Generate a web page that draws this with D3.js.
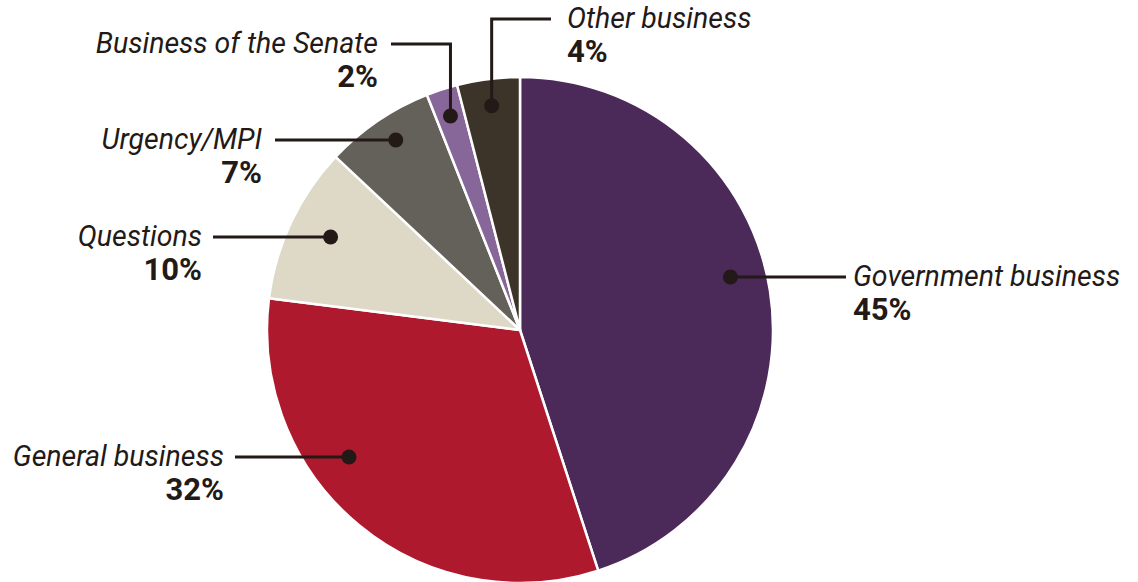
<!DOCTYPE html>
<html>
<head>
<meta charset="utf-8">
<script src="https://cdn.jsdelivr.net/npm/d3@7"></script>
<style>
  body { margin: 0; background: #fff; }
  text { font-family: Roboto, "Liberation Sans", sans-serif; fill: #231916; }
</style>
</head>
<body>
<svg width="1138" height="582"></svg>
<script>
/* chart data */
var categories = ["Government business", "General business", "Questions", "Urgency/MPI", "Business of the Senate", "Other business"];
var shares = [45, 32, 10, 7, 2, 4];
var colours = ["#4b2959", "#ae192d", "#ddd9c6", "#64605a", "#876699", "#3c3429"];

/* where each label sits (layout only) */
var labelLayout = [
  {side: "right", lineY: 277, textX: 853, lineEnd: 846, dotR: 217},
  {side: "left",  lineY: 457, textX: 224, lineEnd: 235, dotR: 213},
  {side: "left",  lineY: 237, textX: 202, lineEnd: 213, dotR: 211},
  {side: "left",  lineY: 140, textX: 262, lineEnd: 275, dotR: 227},
  {side: "elbowLeft",  lineY: 44, textX: 378, lineEnd: 391, dotR: 225},
  {side: "elbowRight", lineY: 19, textX: 567, lineEnd: 551, dotR: 226}
];

var svg = d3.select("svg"),
    cx = 520, cy = 330, radius = 253,
    g = svg.append("g").attr("transform", "translate(" + cx + "," + cy + ")");

var data = categories.map(function(c, i) { return {name: c, value: shares[i], colour: colours[i], layout: labelLayout[i]}; });

var pie = d3.pie().sort(null).value(function(d) { return d.value; });
var arc = d3.arc().innerRadius(0).outerRadius(radius);
var arcs = pie(data);

g.selectAll("path.slice")
  .data(arcs)
  .enter().append("path")
    .attr("class", "slice")
    .attr("d", arc)
    .attr("fill", function(d) { return d.data.colour; })
    .attr("stroke", "#fff")
    .attr("stroke-width", 2.5)
    .attr("stroke-linejoin", "round");

/* dot position: straight leaders meet the slice on the label row, elbow leaders at the slice middle */
function dotPos(d) {
  var L = d.data.layout, y, x;
  if (L.side === "left" || L.side === "right") {
    y = L.lineY - cy;
    x = Math.sqrt(L.dotR * L.dotR - y * y) * (L.side === "right" ? 1 : -1);
  } else {
    var a = (d.startAngle + d.endAngle) / 2;
    x = L.dotR * Math.sin(a);
    y = -L.dotR * Math.cos(a);
  }
  return [x + cx, y + cy];
}

var labels = svg.selectAll("g.label")
  .data(arcs)
  .enter().append("g")
    .attr("class", "label");

labels.append("path")
  .attr("fill", "none")
  .attr("stroke", "#231916")
  .attr("stroke-width", 3)
  .attr("d", function(d) {
    var L = d.data.layout, p = dotPos(d);
    if (L.side === "left" || L.side === "right") {
      return "M" + p[0] + "," + L.lineY + "H" + L.lineEnd;
    }
    return "M" + p[0] + "," + p[1] + "V" + L.lineY + "H" + L.lineEnd;
  });

labels.append("circle")
  .attr("r", 7.5)
  .attr("fill", "#231916")
  .attr("cx", function(d) { return dotPos(d)[0]; })
  .attr("cy", function(d) {
    var L = d.data.layout;
    return (L.side === "left" || L.side === "right") ? L.lineY : dotPos(d)[1];
  });

function anchor(d) {
  var s = d.data.layout.side;
  return (s === "right" || s === "elbowRight") ? "start" : "end";
}

labels.append("text")
  .attr("x", function(d) { return d.data.layout.textX; })
  .attr("y", function(d) { return d.data.layout.lineY + 9; })
  .attr("text-anchor", anchor)
  .attr("font-size", 28.5)
  .attr("font-style", "italic")
  .attr("font-weight", 400)
  .text(function(d) { return d.data.name; });

labels.append("text")
  .attr("x", function(d) { return d.data.layout.textX; })
  .attr("y", function(d) { return d.data.layout.lineY + 43; })
  .attr("text-anchor", anchor)
  .attr("font-size", 31)
  .attr("font-weight", 700)
  .text(function(d) { return d.data.value + "%"; });
</script>
</body>
</html>
